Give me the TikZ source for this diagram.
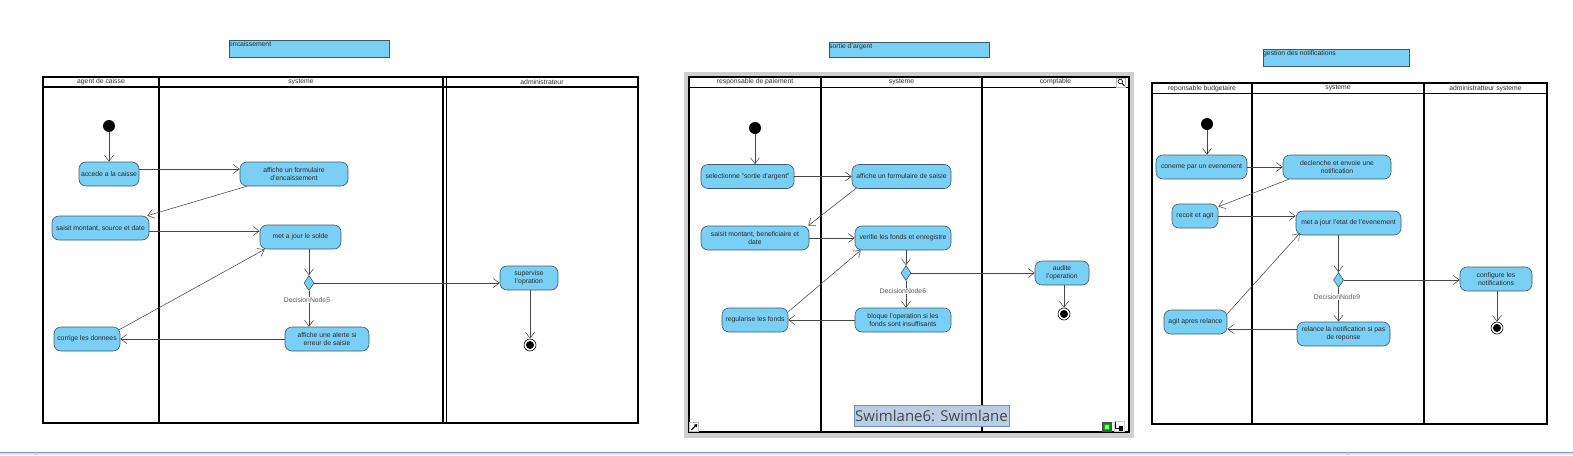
\documentclass[tikz,border=0pt]{standalone}
\usepackage{fontspec}
\setmainfont{Liberation Sans}
\newfontfamily\swfont{Open Sans}
\usetikzlibrary{arrows.meta,shapes.geometric,calc}
\definecolor{actfill}{HTML}{7ACFF5}
\definecolor{actline}{HTML}{3D5A6B}
\definecolor{txt}{HTML}{2A2A2A}
\definecolor{framegray}{HTML}{CFCFCF}
\definecolor{swfill}{HTML}{B9CDE5}
\definecolor{swline}{HTML}{6D8FC6}
\definecolor{barfill}{HTML}{DDE6F0}
\definecolor{barline}{HTML}{7B95C9}
\tikzset{
  act/.style={rectangle, rounded corners=7pt, draw=actline, fill=actfill, line width=0.6pt,
    text=txt, font=\fontsize{6.8}{8.2}\selectfont, align=center, inner sep=1pt, minimum height=24pt},
  flow/.style={draw=black!72, line width=0.55pt, -{Straight Barb[length=6pt,width=9pt,line width=0.55pt]}},
  initnode/.style={circle, fill=black, minimum size=12pt, inner sep=0pt},
  finnode/.style={circle, draw=black, line width=0.6pt, fill=white, minimum size=12pt, inner sep=0pt,
    path picture={\fill[black] (path picture bounding box.center) circle (4pt);}},
  decnode/.style={diamond, draw=actline, fill=actfill, line width=0.6pt, minimum width=10pt, minimum height=15pt, inner sep=0pt},
  declab/.style={fill=white, text=black!65, font=\fontsize{6.8}{7.5}\selectfont, inner sep=0.8pt},
  lane/.style={draw=black, line width=1.2pt},
  hdr/.style={font=\fontsize{6.8}{7.5}\selectfont, text=txt, inner sep=0pt},
  titlebox/.style={draw=actline, fill=actfill, line width=0.7pt},
  titletext/.style={anchor=north west, font=\fontsize{6.8}{7.5}\selectfont, text=txt, inner sep=0.5pt},
}
\begin{document}
\begin{tikzpicture}[x=1pt,y=-1pt]
\useasboundingbox (0,0) rectangle (1573,455);

% ================= Diagram 1 : encaissement =================
\draw[titlebox] (229,40) rectangle (389,57);
\node[titletext] (t1) at (228.5,40.5) {encaissement};

\draw[lane] (43,77) rectangle (638,423);
\draw[lane] (43,87) -- (638,87);
\draw[lane] (159,77) -- (159,423);
\draw[lane] (443,77) -- (443,423);
\draw[lane] (446.5,77) -- (446.5,423);
\node[hdr] (h11) at (101,82) {agent de caisse};
\node[hdr] (h12) at (301,82) {systeme};
\node[hdr] (h13) at (542,82) {administrateur};

\node[initnode] (i1) at (109,126) {};
\node[act, minimum width=60pt] (a1) at (109,174) {accede a la caisse};
\node[act, minimum width=108pt] (a2) at (294,174) {affiche un formulaire\\d'encaissement};
\node[act, minimum width=97pt] (a3) at (100.5,228) {saisit montant, source et date};
\node[act, minimum width=81pt] (a4) at (300.5,237) {met a jour le solde};
\node[decnode] (d1) at (309,283) {};
\node[act, minimum width=84pt] (a5) at (327,339) {affiche une alerte si\\erreur de saisie};
\node[act, minimum width=66pt] (a6) at (87,339) {corrige les donnees};
\node[act, minimum width=58pt] (a7) at (529,278) {supervise\\l'opration};
\node[finnode] (f1) at (530,345) {};

\draw[flow] (i1) -- (i1 |- a1.north);
\draw[flow] ([yshift=5pt]a1.east) -- ([yshift=5pt]a1.east -| a2.west);
\draw[flow] ([xshift=7pt]a2.south west) -- ([xshift=-2pt]a3.north east);
\draw[flow] ([yshift=-3pt]a3.east) -- ([yshift=-3pt]a3.east -| a4.west);
\draw[flow] ([xshift=-1pt,yshift=-3pt]a6.north east) -- ([xshift=5pt]a4.south west);
\draw[flow] (a4.south -| d1.north) -- (d1.north);
\draw[flow] (d1.south) -- (d1.south |- a5.north);
\draw[flow] (d1.east) -- (d1.east -| a7.west);
\draw[flow] (a5.west) -- (a6.east);
\draw[flow] (a7.south -| f1.north) -- (f1.north);
\node[declab] (l1) at (307,300) {DecisionNode5};

% ================= Diagram 2 : sortie d'argent =================
\draw[titlebox] (829,42) rectangle (989,57);
\node[titletext] (t2) at (828.5,42.5) {sortie d'argent};

\fill[framegray] (684,72) rectangle (1134,438);
\fill[white] (689,77) rectangle (1129,432);
\draw[lane] (689,77) rectangle (1129,432);
\draw[lane] (689,87.5) -- (1129,87.5);
\draw[draw=black, line width=1.9pt] (821,77) -- (821,432);
\draw[lane] (982,77) -- (982,432);
\node[hdr] (h21) at (755,82) {responsable de paiement};
\node[hdr] (h22) at (901.5,82) {systeme};
\node[hdr] (h23) at (1055.5,82) {comptable};

% editor icons
\node[draw=black!25, fill=white, minimum size=9pt, inner sep=0pt] (ic0) at (1121,82.5) {};
\draw[black, line width=0.6pt] (1120.3,81.5) circle (2.3pt);
\draw[black, line width=0.9pt] (1122,83.3) -- (1124.5,86);
\node[draw=black!25, fill=white, minimum size=9pt, inner sep=0pt] (ic1) at (694,427) {};
\draw[black, line width=1.1pt, -{Triangle[length=3pt,width=3.6pt]}] (691.3,430) -- (697.3,424);
\node[draw=black!70, fill=green!55!black, minimum size=9pt, inner sep=0pt] (ic2) at (1107,426.5) {};
\node[draw=green!70!black, fill=green!35, minimum size=5pt, inner sep=0pt] (ic2b) at (1107,426.5) {};
\node[draw=black!20, fill=white, minimum width=10pt, minimum height=10pt, inner sep=0pt] (ic3) at (1119,426.5) {};
\draw[black, line width=0.8pt] (1115.5,422) -- (1115.5,428.5) -- (1119,428.5);
\fill[black] (1119,426) rectangle (1123,431);

\node[act, minimum width=93pt] (b1) at (747.5,176.5) {selectionne "sortie d'argent"};
\node[initnode] (i2) at (755,128) {};
\node[act, minimum width=99pt] (b2) at (901.5,176.5) {affiche un formulaire de saisie};
\node[act, minimum width=108pt] (b3) at (755,238) {saisit montant, beneficiaire et\\date};
\node[act, minimum width=96pt] (b4) at (903,238) {verifie les fonds et enregistre};
\node[decnode] (d2) at (906,273) {};
\node[act, minimum width=96pt] (b5) at (903,320) {bloque l'operation si les\\fonds sont insuffisants};
\node[act, minimum width=66pt] (b6) at (755,320) {regularise les fonds};
\node[act, minimum width=54pt] (b7) at (1062,273) {audite\\l'operation};
\node[finnode] (f2) at (1064,314) {};

\draw[flow] (i2) -- (i2 |- b1.north);
\draw[flow] (b1.east) -- (b2.west);
\draw[flow] ([xshift=5pt,yshift=1pt]b2.south west) -- ([xshift=-1pt]b3.north east);
\draw[flow] (b3.east) -- (b4.west);
\draw[flow] ([yshift=-4pt]b6.north east) -- ([xshift=6pt]b4.south west);
\draw[flow] (b4.south -| d2.north) -- (d2.north);
\draw[flow] (d2.south) -- (d2.south |- b5.north);
\draw[flow] (d2.east) -- (d2.east -| b7.west);
\draw[flow] (b5.west) -- (b6.east);
\draw[flow] (b7.south -| f2.north) -- (f2.north);
\node[declab] (l2) at (903,291) {DecisionNode6};

\node[draw=swline, fill=swfill, line width=0.7pt, minimum width=155pt, minimum height=21pt, inner sep=0pt,
  font=\swfont\fontsize{15}{16}\selectfont, text=black!72] (sw) at (931.5,415.5) {Swimlane6: Swimlane};

% ================= Diagram 3 : gestion des notifications =================
\draw[titlebox] (1263,49) rectangle (1409,66);
\node[titletext] (t3) at (1262.5,49.5) {gestion des notifications};

\draw[lane] (1152,83) rectangle (1547,424);
\draw[lane] (1152,93.5) -- (1547,93.5);
\draw[lane] (1252,83) -- (1252,424);
\draw[lane] (1424,83) -- (1424,424);
\node[hdr] (h31) at (1202,88.5) {reponsable budgetaire};
\node[hdr] (h32) at (1338,88.5) {systeme};
\node[hdr] (h33) at (1485.5,88.5) {administratteur systeme};

\node[initnode] (i3) at (1207,124) {};
\node[act, minimum width=91pt] (c1) at (1201.5,167) {coneme par un evenement};
\node[act, minimum width=108pt] (c2) at (1337,167) {declenche et envoie une\\notification};
\node[act, minimum width=46pt] (c3) at (1195,216) {recoit et agit};
\node[act, minimum width=105pt] (c4) at (1348.5,223) {met a jour l'etat de l'evenement};
\node[decnode] (d3) at (1338.5,280) {};
\node[act, minimum width=93pt] (c5) at (1343.5,334) {relance la notification si pas\\de reponse};
\node[act, minimum width=63pt] (c6) at (1195.5,322) {agit apres relance};
\node[act, minimum width=72pt] (c7) at (1496,279) {configure les\\notifications};
\node[finnode] (f3) at (1497,328) {};

\draw[flow] (i3) -- (i3 |- c1.north);
\draw[flow] (c1.east) -- (c2.west);
\draw[flow] ([xshift=6pt]c2.south west) -- ([yshift=-3pt]c3.north east);
\draw[flow] (c3.east) -- (c3.east -| c4.west);
\draw[flow] ([yshift=-4pt]c6.north east) -- ([xshift=4pt,yshift=2pt]c4.south west);
\draw[flow] (c4.south -| d3.north) -- (d3.north);
\draw[flow] (d3.south) -- (d3.south |- c5.north);
\draw[flow] (d3.east) -- (d3.east -| c7.west);
\draw[flow] ([yshift=5pt]c5.west) -- ([yshift=5pt]c5.west -| c6.east);
\draw[flow] (c7.south -| f3.north) -- (f3.north);
\node[declab] (l3) at (1337,297) {DecisionNode9};

% ================= bottom bar =================
\fill[barfill] (0,452) rectangle (1573,455);
\draw[barline, line width=0.8pt] (0,452) -- (1573,452);
\draw[barline!60, line width=0.5pt] (35,452) -- (35,455);
\draw[barline!60, line width=0.5pt] (1347,452) -- (1347,455);
\end{tikzpicture}
\end{document}
